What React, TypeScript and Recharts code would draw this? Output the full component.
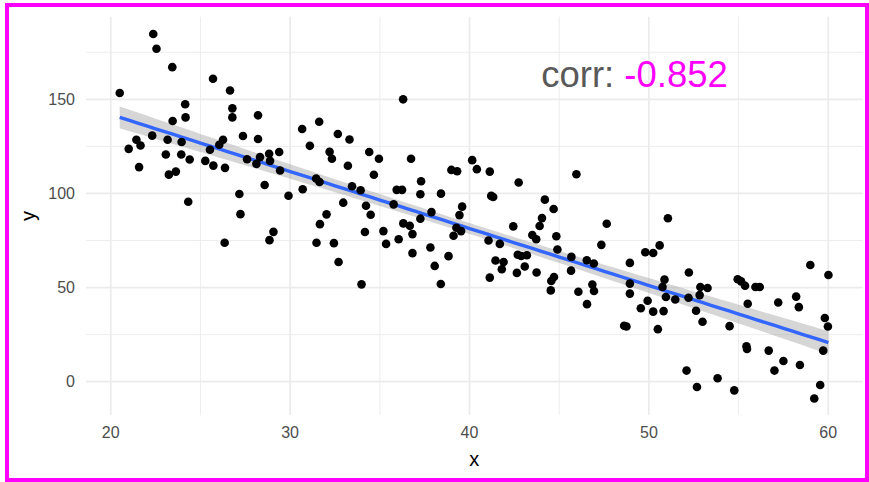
import React from "react";
import {
  ComposedChart,
  Scatter,
  Line,
  Area,
  XAxis,
  YAxis,
  CartesianGrid,
} from "recharts";

// values
const pointX = [
  20.5, 21.0, 21.43, 21.66, 21.58, 22.37, 22.55, 22.31, 23.43, 23.45, 23.17, 23.07, 23.24, 23.63, 23.95, 23.93,
  24.15, 24.17, 24.4, 24.32, 25.27, 25.53, 25.72, 25.7, 26.05, 26.26, 26.37, 26.65, 26.78, 26.78, 27.37, 27.6,
  28.12, 28.21, 28.21, 28.32, 28.58, 28.83, 28.88, 29.39, 29.44, 29.91, 27.17, 27.23, 30.67, 30.7, 26.35, 29.07,
  28.85, 31.62, 31.1, 32.2, 32.33, 32.66, 33.31, 33.22, 31.45, 31.64, 33.45, 33.93, 32.96, 32.03, 31.66, 31.47,
  32.44, 32.7, 33.98, 34.17, 34.23, 34.49, 34.41, 34.95, 34.67, 35.2, 35.35, 35.77, 35.94, 36.24, 36.3, 36.74,
  37.3, 37.26, 38.41, 36.31, 36.67, 36.82, 36.05, 36.82, 37.26, 37.88, 37.82, 38.06, 38.4, 38.83, 39.11, 39.44,
  39.59, 39.27, 39.53, 38.99, 39.31, 40.15, 40.41, 41.13, 41.21, 41.32, 42.74, 42.44, 41.06, 41.69, 41.45, 41.9,
  41.8, 41.13, 42.64, 43.08, 42.69, 42.88, 43.2, 43.74, 43.5, 43.72, 43.91, 44.04, 44.2, 44.69, 44.84, 44.9,
  44.56, 44.71, 44.53, 45.68, 45.66, 46.07, 46.54, 46.93, 46.85, 46.94, 46.55, 47.35, 47.65, 45.96, 48.94, 48.94,
  48.94, 49.55, 51.06, 50.6, 49.8, 50.24, 48.62, 48.75, 49.93, 50.24, 50.82, 50.5, 50.87, 50.76, 50.95, 51.47,
  52.23, 52.21, 52.63, 52.99, 52.87, 52.83, 53.27, 52.1, 52.68, 53.83, 54.5, 54.76, 54.95, 55.14, 55.36, 55.51,
  55.44, 55.47, 55.94, 56.18, 56.68, 57.21, 57.5, 57.0, 58.21, 58.36, 58.42, 59.0, 59.22, 59.55, 59.72, 59.81,
  59.98, 60.01,
];

const pointY = [
  153.4, 123.7, 128.5, 125.5, 114, 184.7, 176.9, 130.7, 167.1, 138.5, 128.5, 120.7, 110, 111.6, 127.3, 120.7,
  147.4, 140.4, 118, 95.6, 117.3, 123.2, 114.8, 160.9, 125.9, 128.5, 113.6, 154.7, 145.2, 140.4, 130.5, 118.2,
  115.7, 141.5, 128.9, 119.3, 104.5, 121.1, 117.3, 122, 112.2, 98.8, 99.7, 89, 134.2, 102.2, 73.8, 79.6,
  75.2, 138.1, 125.3, 122.1, 118.4, 131.6, 128.7, 114.7, 107.9, 106.1, 103.8, 101.7, 95.1, 88.9, 83.7, 73.8,
  73.6, 63.6, 51.7, 79.5, 93.5, 88.7, 122, 118.4, 109.9, 80, 73.2, 94.2, 101.9, 101.9, 150, 118.4,
  106.5, 99.6, 99.9, 84.1, 82.8, 78.4, 75.7, 68.3, 86.6, 90.1, 71.3, 61.5, 51.9, 66.7, 77.5, 88.5,
  93, 81.8, 80, 112.5, 111.8, 117.7, 112.9, 111.6, 98.7, 98.1, 105.8, 82.5, 75, 73.2, 64.4, 63.6,
  59.7, 55.3, 57.8, 61.2, 67.4, 66.8, 67.2, 58, 77.9, 75.7, 82.7, 86.9, 96.7, 91.7, 77.3, 70.2,
  53.5, 55.6, 48.5, 66.3, 59, 47.8, 64.5, 62.8, 51.6, 48.2, 41.2, 72.7, 83.9, 110.2, 63.1, 52.1,
  46.8, 39, 86.8, 72.4, 68.8, 68.4, 29.7, 29.3, 43, 37.2, 37.5, 27.9, 54.2, 50.3, 45, 43.7,
  58, 44.6, 37.7, 31.8, 50.3, 46, 49.8, 5.9, -2.8, 1.8, 29.5, -4.6, 54.4, 53.3, 51, 41.4,
  18.8, 17.4, 50.3, 50.3, 16.5, 42.1, 11, 5.9, 45.2, 39.6, 8.9, 62, -8.9, -1.8, 16.5, 33.8,
  29.3, 56.7,
];

const xTicks = [20, 30, 40, 50, 60];
const yTicks = [0, 50, 100, 150];
const xMinor = [25, 35, 45, 55];
const yMinor = [25, 75, 125, 175];
const corrLabel = "corr: ";
const corrValue = "-0.852";

const X_DOMAIN: [number, number] = [18.62, 61.92];
const Y_DOMAIN: [number, number] = [-17.7, 193.9];

const points = pointX.map((x, i) => ({ x, y: pointY[i] }));

// linear fit with 95% band, like geom_smooth(method = "lm")
function fitLm() {
  const n = pointX.length;
  const mx = pointX.reduce((s, v) => s + v, 0) / n;
  const my = pointY.reduce((s, v) => s + v, 0) / n;
  let sxx = 0;
  let sxy = 0;
  for (let i = 0; i < n; i++) {
    sxx += (pointX[i] - mx) ** 2;
    sxy += (pointX[i] - mx) * (pointY[i] - my);
  }
  const b = sxy / sxx;
  const a = my - b * mx;
  let sse = 0;
  for (let i = 0; i < n; i++) sse += (pointY[i] - a - b * pointX[i]) ** 2;
  const s = Math.sqrt(sse / (n - 2));
  const t = 1.972;
  const lo = Math.min(...pointX);
  const hi = Math.max(...pointX);
  const out = [];
  for (let k = 0; k < 80; k++) {
    const x = lo + ((hi - lo) * k) / 79;
    const fit = a + b * x;
    const se = s * Math.sqrt(1 / n + (x - mx) ** 2 / sxx);
    out.push({ x, fit, band: [fit - t * se, fit + t * se] });
  }
  return out;
}

const smooth = fitLm();

const FONT = "'Liberation Sans', Arial, sans-serif";

// grid positions go through the axis scale
const gridX = (vals: number[]) => ({ xAxis, offset }: any) => {
  if (xAxis && typeof xAxis.scale === "function") return vals.map((v) => xAxis.scale(v));
  return vals.map(
    (v) => offset.left + ((v - X_DOMAIN[0]) / (X_DOMAIN[1] - X_DOMAIN[0])) * offset.width
  );
};

const gridY = (vals: number[]) => ({ yAxis, offset }: any) => {
  if (yAxis && typeof yAxis.scale === "function") return vals.map((v) => yAxis.scale(v));
  return vals.map(
    (v) => offset.top + ((Y_DOMAIN[1] - v) / (Y_DOMAIN[1] - Y_DOMAIN[0])) * offset.height
  );
};

export default function App() {
  return (
    <div
      style={{
        position: "absolute",
        left: 0,
        top: 0,
        width: 869,
        height: 482,
        background: "#fff",
        fontFamily: FONT,
      }}
    >
      <ComposedChart
        width={869}
        height={482}
        margin={{ top: 16.7, right: 6.3, bottom: 37, left: 0 }}
      >
        {/* minor grid */}
        <CartesianGrid
          stroke="#EBEBEB"
          strokeWidth={0.9}
          verticalCoordinatesGenerator={gridX(xMinor)}
          horizontalCoordinatesGenerator={gridY(yMinor)}
        />
        {/* major grid */}
        <CartesianGrid
          stroke="#EBEBEB"
          strokeWidth={1.7}
          verticalCoordinatesGenerator={gridX(xTicks)}
          horizontalCoordinatesGenerator={gridY(yTicks)}
        />

        <XAxis
          type="number"
          dataKey="x"
          domain={X_DOMAIN}
          ticks={xTicks}
          allowDataOverflow
          axisLine={false}
          tickLine={false}
          tickSize={0}
          tickMargin={12}
          height={30}
          tick={{ fill: "#4D4D4D", fontSize: 16, fontFamily: FONT }}
        />
        <YAxis
          type="number"
          dataKey="y"
          domain={Y_DOMAIN}
          ticks={yTicks}
          allowDataOverflow
          axisLine={false}
          tickLine={false}
          tickSize={0}
          tickMargin={11}
          width={86}
          tick={{ fill: "#4D4D4D", fontSize: 16, fontFamily: FONT }}
        />

        <Scatter
          data={points}
          dataKey="y"
          isAnimationActive={false}
          shape={(p: any) => <circle cx={p.cx} cy={p.cy} r={4.3} fill="#000" />}
        />
        <Area
          data={smooth}
          dataKey="band"
          type="linear"
          stroke="none"
          fill="#999999"
          fillOpacity={0.4}
          isAnimationActive={false}
        />
        <Line
          data={smooth}
          dataKey="fit"
          type="linear"
          stroke="#3366FF"
          strokeWidth={3.4}
          dot={false}
          activeDot={false}
          isAnimationActive={false}
        />
      </ComposedChart>

      <svg
        width={869}
        height={482}
        style={{ position: "absolute", left: 0, top: 0, pointerEvents: "none" }}
      >
        <text x={474.3} y={465.5} textAnchor="middle" fontSize={20} fill="#000" fontFamily={FONT}>
          x
        </text>
        <text
          transform="translate(35.2,216) rotate(-90)"
          textAnchor="middle"
          fontSize={20}
          fill="#000"
          fontFamily={FONT}
        >
          y
        </text>
        <text
          x={634.5}
          y={86.7}
          textAnchor="middle"
          fontSize={36.5}
          fontFamily={FONT}
          style={{ whiteSpace: "pre" }}
        >
          <tspan fill="#595959">{corrLabel}</tspan>
          <tspan fill="#FF00FF">{corrValue}</tspan>
        </text>
      </svg>

      <div
        style={{
          position: "absolute",
          left: 5,
          top: 3,
          width: 864,
          height: 479,
          border: "4px solid #FF00FF",
          boxSizing: "border-box",
        }}
      />
    </div>
  );
}
